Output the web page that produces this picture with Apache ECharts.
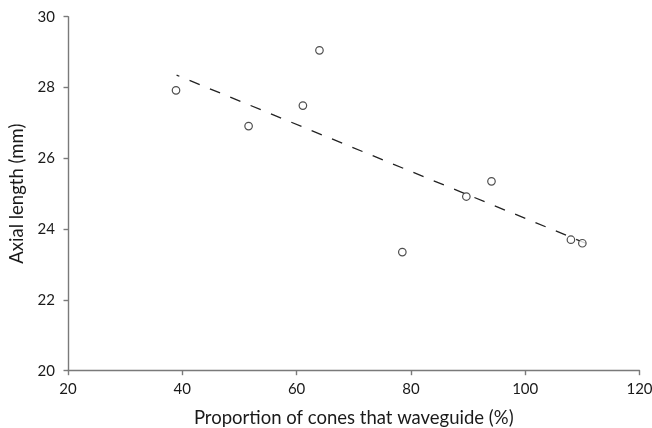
<!DOCTYPE html>
<html>
<head>
<meta charset="utf-8">
<script src="https://cdn.jsdelivr.net/npm/echarts@6/dist/echarts.min.js"></script>
<style>
html,body{margin:0;padding:0;background:#fff;}
#chart{width:652px;height:428px;}
</style>
</head>
<body>
<div id="chart"></div>
<script>
// Data
var proportionWaveguide = [38.9, 51.6, 61.1, 64.0, 78.5, 89.7, 94.1, 108.0, 110.0];
var axialLength = [27.92, 26.91, 27.49, 29.05, 23.35, 24.92, 25.35, 23.70, 23.60];
var trendX = [39.0, 110.6];
var trendY = [28.35, 23.60];
var xTicks = [20, 40, 60, 80, 100, 120];
var yTicks = [20, 22, 24, 26, 28, 30];

var pts = proportionWaveguide.map(function (x, i) { return [x, axialLength[i]]; });
var trend = trendX.map(function (x, i) { return [x, trendY[i]]; });

var font = 'Lato, "Open Sans", sans-serif';
var chart = echarts.init(document.getElementById('chart'));
chart.setOption({
  animation: false,
  backgroundColor: '#fff',
  grid: { left: 68, right: 12.5, top: 16.7, bottom: 57.3, containLabel: false, outerBoundsMode: 'none' },
  xAxis: {
    type: 'value',
    min: xTicks[0], max: xTicks[xTicks.length - 1], interval: 20,
    name: 'Proportion of cones that waveguide (%)',
    nameLocation: 'middle', nameGap: 38,
    nameTextStyle: { fontFamily: font, fontSize: 18.5, color: '#1a1a1a' },
    axisLine: { show: true, lineStyle: { color: '#7a7a7a', width: 1.4 } },
    axisTick: { show: true, length: 4.5, inside: false, lineStyle: { color: '#7a7a7a', width: 1.4 } },
    axisLabel: { margin: 11, fontFamily: font, fontSize: 15, color: '#1a1a1a' },
    splitLine: { show: false }
  },
  yAxis: {
    type: 'value',
    min: yTicks[0], max: yTicks[yTicks.length - 1], interval: 2,
    name: 'Axial length (mm)',
    nameLocation: 'middle', nameGap: 41,
    nameTextStyle: { fontFamily: font, fontSize: 18.5, color: '#1a1a1a' },
    axisLine: { show: true, lineStyle: { color: '#7a7a7a', width: 1.4 } },
    axisTick: { show: true, length: 4.5, inside: false, lineStyle: { color: '#7a7a7a', width: 1.4 } },
    axisLabel: { margin: 13, fontFamily: font, fontSize: 15, color: '#1a1a1a' },
    splitLine: { show: false }
  },
  series: [
    {
      type: 'line',
      data: trend,
      symbol: 'none',
      lineStyle: { color: '#222', width: 1.3, type: [11, 11], dashOffset: 8 },
      z: 1
    },
    {
      type: 'scatter',
      data: pts,
      symbol: 'circle',
      symbolSize: 7.5,
      itemStyle: { color: '#fff', borderColor: '#222', borderWidth: 1.2 },
      z: 2
    }
  ]
});
</script>
</body>
</html>
